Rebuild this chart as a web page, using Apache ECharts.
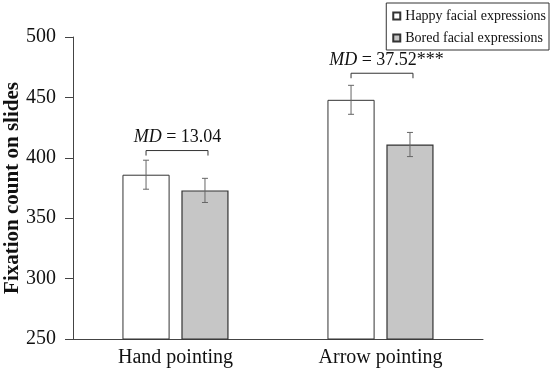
<!DOCTYPE html>
<html><head><meta charset="utf-8">
<script src="https://cdn.jsdelivr.net/npm/echarts@6/dist/echarts.min.js"></script>
<style>html,body{margin:0;padding:0;background:#fff}#c{width:550px;height:377px}</style>
</head><body><div id="c"></div>
<script>
var categories = ['Hand pointing', 'Arrow pointing'];
var happy = [386, 448];
var bored = [373, 411];
var happyErr = [12, 12];
var boredErr = [10, 10];
var mdValues = ['13.04', '37.52***'];
var bracketLevels = [406, 470];
var yTicks = [250, 300, 350, 400, 450, 500];

var FONT = '"Liberation Serif", "Times New Roman", serif';
var BW = 0.23, GAP = 0.25;
function offs(api) {
  var band = api.size([1, 0])[0];
  return band * BW * (1 + GAP) / 2;
}
var chart = echarts.init(document.getElementById('c'), null, {renderer: 'canvas'});
chart.setOption({
  animation: false,
  backgroundColor: '#fff',
  grid: {left: 73, right: 67, top: 37, bottom: 38, containLabel: false, outerBoundsMode: 'none'},
  legend: {
    orient: 'vertical', right: 1, top: 3,
    padding: [6, 3, 5, 6], itemGap: 8,
    itemWidth: 7, itemHeight: 7, icon: 'rect', itemTextGap: 5,
    borderColor: '#333', borderWidth: 1,
    textStyle: {fontFamily: FONT, fontSize: 14, color: '#111'},
    data: ['Happy facial expressions', 'Bored facial expressions']
  },
  xAxis: {
    type: 'category', data: categories,
    axisLine: {lineStyle: {color: '#444', width: 1}},
    axisTick: {inside: true, length: 5, lineStyle: {color: '#444'}},
    axisLabel: {fontFamily: FONT, fontSize: 20, color: '#111', margin: 9}
  },
  yAxis: {
    type: 'value', min: 250, max: 500, interval: 50,
    name: 'Fixation count on slides', nameLocation: 'middle', nameGap: 50, nameMoveOverlap: false,
    nameTextStyle: {fontFamily: FONT, fontSize: 21, fontWeight: 'bold', color: '#111'},
    axisLine: {show: true, lineStyle: {color: '#444'}},
    axisTick: {show: true, length: 8, lineStyle: {color: '#444'}},
    splitLine: {show: false},
    axisLabel: {fontFamily: FONT, fontSize: 20, color: '#111', margin: 17,
      formatter: function (v) { return yTicks.indexOf(v) >= 0 ? String(v) : ''; }}
  },
  series: [
    {name: 'Happy facial expressions', type: 'bar', data: happy, barWidth: '23%', barGap: '25%',
     itemStyle: {color: '#fff', borderColor: '#333', borderWidth: 1}},
    {name: 'Bored facial expressions', type: 'bar', data: bored, barWidth: '23%', barGap: '25%',
     itemStyle: {color: '#c6c6c6', borderColor: '#333', borderWidth: 1.2}},
    {type: 'custom', silent: true, z: 10,
     data: categories.map(function (c, i) { return [i]; }),
     renderItem: function (params, api) {
       var i = api.value(0);
       var o = offs(api);
       var children = [];
       [[happy, happyErr, -o], [bored, boredErr, o]].forEach(function (s) {
         var hi = api.coord([i, s[0][i] + s[1][i]]);
         var lo = api.coord([i, s[0][i] - s[1][i]]);
         var x = hi[0] + s[2];
         var st = {stroke: '#666', lineWidth: 1};
         children.push({type: 'line', shape: {x1: x, y1: hi[1], x2: x, y2: lo[1]}, style: st});
         children.push({type: 'line', shape: {x1: x - 3, y1: hi[1], x2: x + 3, y2: hi[1]}, style: st});
         children.push({type: 'line', shape: {x1: x - 3, y1: lo[1], x2: x + 3, y2: lo[1]}, style: st});
       });
       var p = api.coord([i, bracketLevels[i]]);
       var xl = p[0] - o, xr = p[0] + o + 3, y = p[1];
       children.push({type: 'polyline', shape: {points: [[xl, y + 5], [xl, y], [xr, y], [xr, y + 5]]},
         style: {stroke: '#333', lineWidth: 1, fill: null}});
       children.push({type: 'text', x: p[0] + 2 + i * 4, y: y - 4,
         style: {text: '{i|MD} = ' + mdValues[i], align: 'center', verticalAlign: 'bottom',
           fontFamily: FONT, fontSize: 18, fill: '#111',
           rich: {i: {fontStyle: 'italic', fontFamily: FONT, fontSize: 18, fill: '#111'}}}});
       return {type: 'group', children: children};
     }}
  ]
});
</script></body></html>
